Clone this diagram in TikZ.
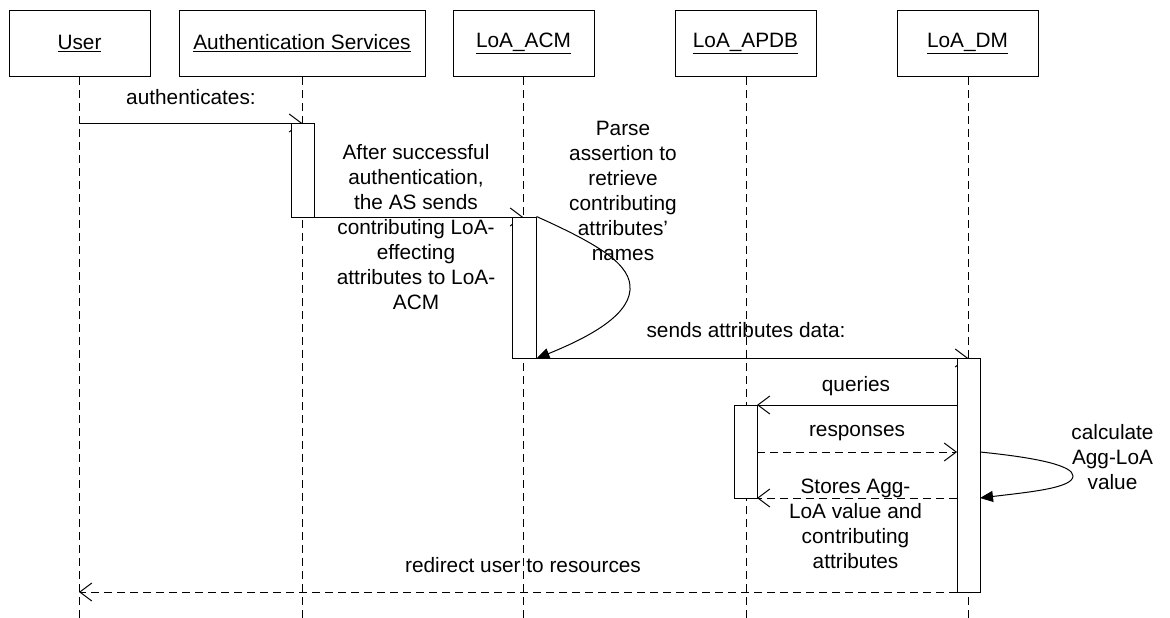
\documentclass[tikz,border=0pt]{standalone}
\usepackage{fontspec}
\setmainfont{Liberation Sans}
\usetikzlibrary{arrows.meta}
\begin{document}
\begin{tikzpicture}[x=1pt,y=-1pt,line width=1pt,
  txt/.style={font=\fontsize{20.8}{25}\selectfont, inner sep=0pt, align=center},
  head/.style={draw, fill=white, minimum height=66pt, minimum width=141pt, inner sep=0pt, font=\fontsize{20.8}{25}\selectfont},
  act/.style={draw, fill=white, minimum width=23pt, inner sep=0pt},
  life/.style={dash pattern=on 8pt off 5pt},
  dsh/.style={dash pattern=on 8pt off 5pt},
  openarr/.style={-{Straight Barb[length=12pt,width=18pt,line width=1pt]}},
  selfarr/.style={-{Triangle[length=13pt,width=11pt]}}
]
\useasboundingbox (0,0) rectangle (1170,618);

% headers
\node[head] (hU)   at (79.5,43.5)  {\underline{User}};
\node[head, minimum width=246pt] (hAS) at (302,43.5) {\underline{Authentication Services}};
\node[head] (hACM) at (523.5,43.5) {\underline{LoA\_ACM}};
\node[head] (hAPDB) at (745.5,43.5) {\underline{LoA\_APDB}};
\node[head] (hDM)  at (967.5,43.5) {\underline{LoA\_DM}};

% lifeline ends
\coordinate (eU) at (79,618);
\coordinate (eAS) at (302,618);
\coordinate (eACM) at (523,618);
\coordinate (eAPDB) at (746,618);
\coordinate (eDM) at (968,618);

\draw[life] (hU.south -| eU) -- (eU);
\draw[life] (hAS.south -| eAS) -- (eAS);
\draw[life] (hACM.south -| eACM) -- (eACM);
\draw[life] (hAPDB.south -| eAPDB) -- (eAPDB);
\draw[life] (hDM.south -| eDM) -- (eDM);

% message points
\coordinate (u1) at (79,123);
\coordinate (as1) at (302,123);
\coordinate (as2) at (314,217);
\coordinate (acm1) at (523,217);
\coordinate (acm2) at (536,358);
\coordinate (dm1) at (968,358);
\coordinate (q0) at (957,405);
\coordinate (q1) at (757,405);
\coordinate (r0) at (757,452);
\coordinate (r1) at (957,452);
\coordinate (s0) at (957,498);
\coordinate (s1) at (757,498);
\coordinate (d0) at (957,592);
\coordinate (u2) at (79,592);

% messages
\draw[openarr] (u1) -- (as1);
\draw[openarr] (as2) -- (acm1);
\draw[openarr] (acm2) -- (dm1);
\draw[openarr] (q0) -- (q1);
\draw[openarr,dsh] (r0) -- (r1);
\draw[openarr,dsh] (s0) -- (s1);
\draw[openarr,dsh] (d0) -- (u2);

% activations
\node[act, minimum height=94pt] (aAS) at (302.5,170) {};
\node[act, minimum width=24pt, minimum height=141pt] (aACM) at (524,287.5) {};
\node[act, minimum height=93pt] (aAPDB) at (745.5,451.5) {};
\node[act, minimum height=234pt] (aDM) at (968.5,475) {};

% self messages
\coordinate (c1) at (630,290);
\draw[selfarr] (aACM.north east) .. controls (600,245) and (632,265) .. (c1)
   .. controls (628,318) and (582,340) .. (aACM.south east);
\coordinate (c2a) at (980,452);
\coordinate (c2) at (1073,476);
\coordinate (c2b) at (980,498);
\draw[selfarr] (c2a) .. controls (1040,458) and (1073,466) .. (c2)
   .. controls (1073,488) and (1030,492) .. (c2b);

% labels
\node[txt] (t1) at (191,97) {authenticates:};
\node[txt] (t2) at (416,227.5) {After successful\\authentication,\\the AS sends\\contributing LoA-\\effecting\\attributes to LoA-\\ACM};
\node[txt] (t3) at (623,190.5) {Parse\\assertion to\\retrieve\\contributing\\attributes'\\names};
\node[txt] (t4) at (746,330) {sends attributes data:};
\node[txt] (t5) at (856,386) {queries};
\node[txt] (t6) at (857,433) {responses};
\node[txt] (t7) at (855.5,523.5) {Stores Agg-\\LoA value and\\contributing\\attributes};
\node[txt] (t8) at (1112.5,457) {calculate\\Agg-LoA\\value};
\node[txt] (t9) at (523,565) {redirect user to resources};
\end{tikzpicture}
\end{document}
